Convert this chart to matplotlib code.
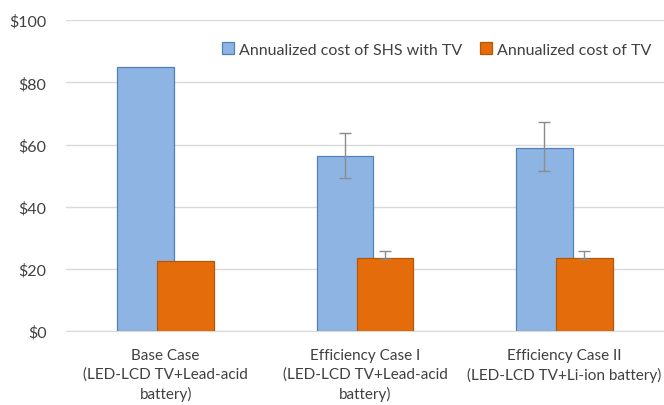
import numpy as np
import matplotlib
matplotlib.use('Agg')
import matplotlib.pyplot as plt

# Chart values
categories = ['Base Case\n(LED-LCD TV+Lead-acid\nbattery)',
              'Efficiency Case I\n(LED-LCD TV+Lead-acid\nbattery)',
              'Efficiency Case II\n(LED-LCD TV+Li-ion battery)']
shs_cost = [85.0, 56.2, 59.0]
shs_err_low = [0.0, 7.0, 7.6]
shs_err_high = [0.0, 7.4, 8.2]
tv_cost = [22.5, 23.6, 23.6]
tv_err_low = [0.0, 0.5, 0.5]
tv_err_high = [0.0, 2.0, 2.0]
series_labels = ['Annualized cost of SHS with TV', 'Annualized cost of TV']

plt.rcParams['font.family'] = ['Lato', 'DejaVu Sans']

fig = plt.figure(figsize=(6.64, 4.06), dpi=100)
ax = fig.add_axes([0.0994, 0.182, 0.9006, 0.766])

x = np.arange(len(categories))
w = 0.285
off = 0.1

ax.bar(x - off, shs_cost, width=w, color='#8EB4E3', edgecolor='#4F81BD',
       linewidth=0.9, label=series_labels[0], zorder=2)
ax.bar(x + off, tv_cost, width=w, color='#E46C0A', edgecolor='#B65708',
       linewidth=0.9, label=series_labels[1], zorder=3)

# error bars only where present
mask = np.array(shs_err_high) > 0
ax.errorbar((x - off)[mask], np.array(shs_cost)[mask],
            yerr=[np.array(shs_err_low)[mask], np.array(shs_err_high)[mask]],
            fmt='none', ecolor='#8C8C8C', elinewidth=1.0, capsize=4, capthick=1.0, zorder=4)
ax.errorbar((x + off)[mask], np.array(tv_cost)[mask],
            yerr=[np.array(tv_err_low)[mask], np.array(tv_err_high)[mask]],
            fmt='none', ecolor='#8C8C8C', elinewidth=1.0, capsize=4, capthick=1.0, zorder=4)

ax.set_xlim(-0.5, 2.5)
ax.set_ylim(0, 100)
ax.set_yticks(range(0, 101, 20))
ax.set_yticklabels(['$%d' % v for v in range(0, 101, 20)])
ax.set_xticks(x)
ax.set_xticklabels(categories, fontsize=11, color='#404040', linespacing=1.4)
ax.tick_params(axis='y', length=0, labelsize=11.5, labelcolor='#404040', pad=14)
ax.tick_params(axis='x', length=0, pad=12)
ax.grid(axis='y', color='#D9D9D9', linewidth=1.0, zorder=0)
ax.set_axisbelow(True)
for s in ['top', 'right', 'left']:
    ax.spines[s].set_visible(False)
ax.spines['bottom'].set_color('#D9D9D9')

ax.legend(loc='upper center', bbox_to_anchor=(0.62, 0.975), ncol=2, frameon=False,
          fontsize=11.5, handlelength=0.75, handleheight=0.75, handletextpad=0.3,
          columnspacing=1.1, labelcolor='#404040')

fig.savefig('out.png', dpi=100)
